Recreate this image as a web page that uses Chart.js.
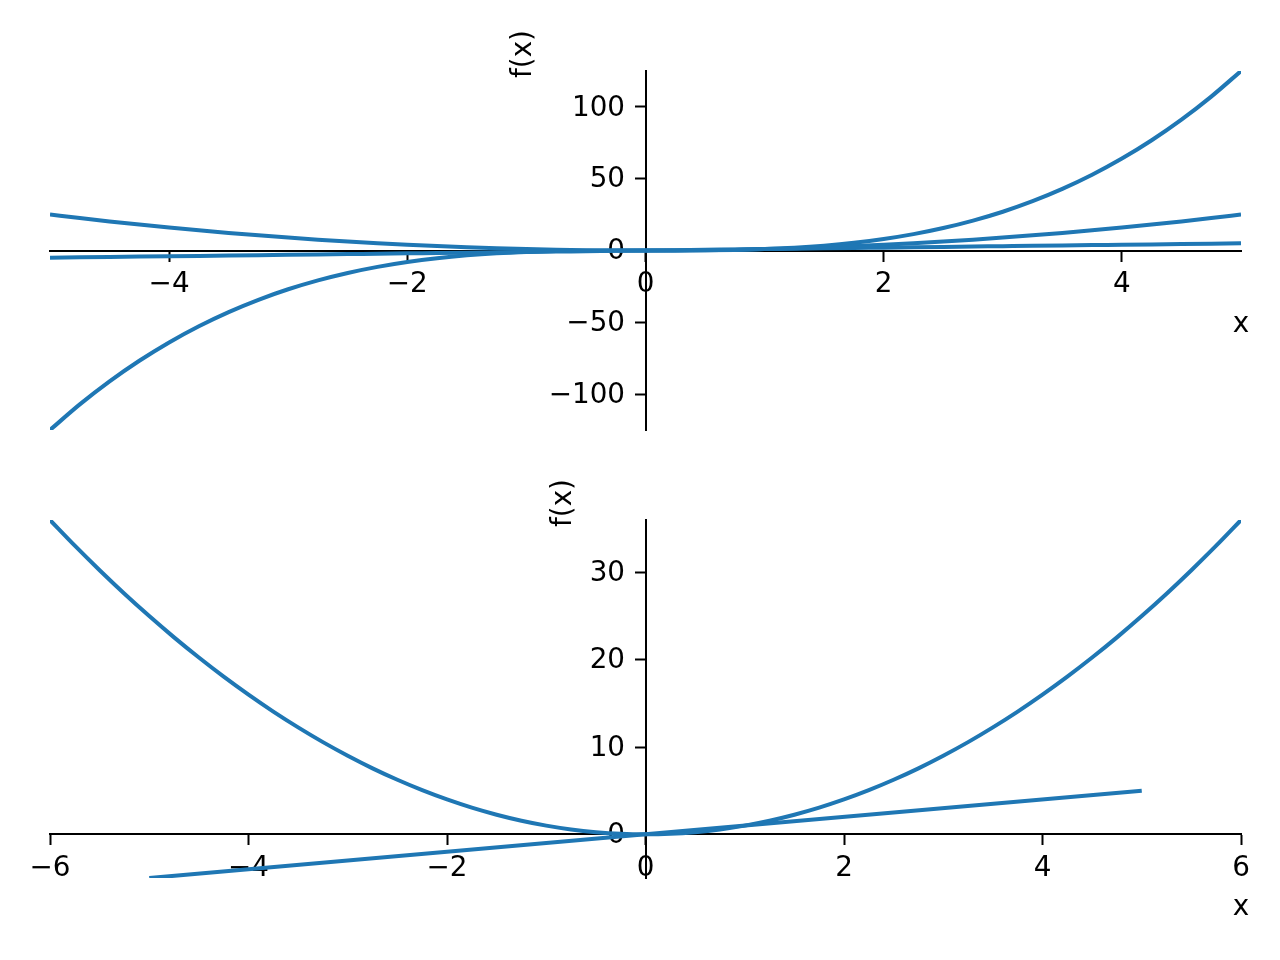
<!DOCTYPE html>
<html lang="en">
<head>
  <meta charset="UTF-8" />
  <title>f(x) plots</title>
  <style>
    * { margin: 0; padding: 0; box-sizing: border-box; }
    body { width: 1280px; height: 960px; background: #fff; position: relative; overflow: hidden; }
    canvas { position: absolute; left: 0; }
    #topChart { top: 0; }
    #bottomChart { top: 480px; }
  </style>
</head>
<body>
  <canvas id="topChart" width="1280" height="480"></canvas>
  <canvas id="bottomChart" width="1280" height="480"></canvas>

  <script src="https://cdn.jsdelivr.net/npm/chart.js"></script>
  <script>
    // top panel: x, x^2, x^3 over [-5, 5]
    const topX = [-5, -4.75, -4.5, -4.25, -4, -3.75, -3.5, -3.25, -3, -2.75, -2.5, -2.25, -2, -1.75, -1.5, -1.25, -1, -0.75, -0.5, -0.25,
      0, 0.25, 0.5, 0.75, 1, 1.25, 1.5, 1.75, 2, 2.25, 2.5, 2.75, 3, 3.25, 3.5, 3.75, 4, 4.25, 4.5, 4.75, 5];
    const topLinear = [-5, -4.75, -4.5, -4.25, -4, -3.75, -3.5, -3.25, -3, -2.75, -2.5, -2.25, -2, -1.75, -1.5, -1.25, -1, -0.75, -0.5, -0.25,
      0, 0.25, 0.5, 0.75, 1, 1.25, 1.5, 1.75, 2, 2.25, 2.5, 2.75, 3, 3.25, 3.5, 3.75, 4, 4.25, 4.5, 4.75, 5];
    const topSquare = [25, 22.56, 20.25, 18.06, 16, 14.06, 12.25, 10.56, 9, 7.56, 6.25, 5.06, 4, 3.06, 2.25, 1.56, 1, 0.56, 0.25, 0.06,
      0, 0.06, 0.25, 0.56, 1, 1.56, 2.25, 3.06, 4, 5.06, 6.25, 7.56, 9, 10.56, 12.25, 14.06, 16, 18.06, 20.25, 22.56, 25];
    const topCube = [-125, -107.17, -91.13, -76.77, -64, -52.73, -42.88, -34.33, -27, -20.8, -15.63, -11.39, -8, -5.36, -3.38, -1.95, -1, -0.42, -0.13, -0.02,
      0, 0.02, 0.13, 0.42, 1, 1.95, 3.38, 5.36, 8, 11.39, 15.63, 20.8, 27, 34.33, 42.88, 52.73, 64, 76.77, 91.13, 107.17, 125];
    const topXTicks = [-4, -2, 0, 2, 4];
    const topYTicks = [-100, -50, 0, 50, 100];

    // bottom panel: x^2 over [-6, 6], x over [-5, 5]
    const bottomX = [-6, -5.75, -5.5, -5.25, -5, -4.75, -4.5, -4.25, -4, -3.75, -3.5, -3.25, -3, -2.75, -2.5, -2.25, -2, -1.75, -1.5, -1.25, -1, -0.75, -0.5, -0.25,
      0, 0.25, 0.5, 0.75, 1, 1.25, 1.5, 1.75, 2, 2.25, 2.5, 2.75, 3, 3.25, 3.5, 3.75, 4, 4.25, 4.5, 4.75, 5, 5.25, 5.5, 5.75, 6];
    const bottomSquare = [36, 33.06, 30.25, 27.56, 25, 22.56, 20.25, 18.06, 16, 14.06, 12.25, 10.56, 9, 7.56, 6.25, 5.06, 4, 3.06, 2.25, 1.56, 1, 0.56, 0.25, 0.06,
      0, 0.06, 0.25, 0.56, 1, 1.56, 2.25, 3.06, 4, 5.06, 6.25, 7.56, 9, 10.56, 12.25, 14.06, 16, 18.06, 20.25, 22.56, 25, 27.56, 30.25, 33.06, 36];
    const bottomLineX = [-5, 5];
    const bottomLine = [-5, 5];
    const bottomXTicks = [-6, -4, -2, 0, 2, 4, 6];
    const bottomYTicks = [0, 10, 20, 30];

    const blue = '#1f77b4';
    const font = { family: "'DejaVu Sans', sans-serif", size: 27.8 };

    const pts = (xs, ys) => xs.map((x, i) => ({ x: x, y: ys[i] }));
    const minus = v => String(v).replace('-', '\u2212');

    function series(xs, ys) {
      return {
        data: pts(xs, ys),
        borderColor: blue,
        borderWidth: 4,
        pointRadius: 0,
        fill: false,
        cubicInterpolationMode: 'monotone'
      };
    }

    // centred y axis puts its labels on the spine, push them left of the ticks
    const yLabelShift = {
      id: 'yLabelShift',
      beforeDraw(chart) {
        const s = chart.scales.y;
        if (!s.getLabelItems) return;
        s.getLabelItems().forEach(it => {
          if (it._shifted) return;
          it.options.translation[0] -= 20.5;
          it.options.translation[1] += 1.5;
          it._shifted = true;
        });
      }
    };

    // axis names like sympy: "x" at the right end, "f(x)" up the y spine
    const axisNames = {
      id: 'axisNames',
      afterDraw(chart, args, opts) {
        const { ctx, chartArea, scales } = chart;
        const y0 = scales.y.getPixelForValue(0);
        const x0 = scales.x.getPixelForValue(0);
        ctx.save();
        ctx.fillStyle = '#000';
        ctx.font = `${font.size}px ${font.family}`;
        ctx.textAlign = 'center';
        ctx.textBaseline = 'alphabetic';
        ctx.fillText('x', chartArea.right, y0 + 81);
        ctx.translate(x0 - opts.yLabelOffset, chartArea.top - 17);
        ctx.rotate(-Math.PI / 2);
        ctx.textBaseline = 'middle';
        ctx.fillText('f(x)', 0, 0);
        ctx.restore();
      }
    };

    function makeChart(id, datasets, xRange, yRange, xTicks, yTicks, padding, yLabelOffset) {
      return new Chart(document.getElementById(id), {
        type: 'line',
        data: { datasets: datasets },
        options: {
          responsive: false,
          animation: false,
          devicePixelRatio: 1,
          layout: { padding: padding },
          plugins: {
            legend: { display: false },
            tooltip: { enabled: false },
            axisNames: { yLabelOffset: yLabelOffset }
          },
          scales: {
            x: {
              type: 'linear',
              min: xRange[0],
              max: xRange[1],
              position: { y: 0 },
              z: 1,
              afterBuildTicks: s => { s.ticks = xTicks.map(v => ({ value: v })); },
              border: { display: true, color: '#000', width: 2 },
              grid: { drawOnChartArea: false, drawTicks: true, tickLength: 10, tickWidth: 2, tickColor: '#000' },
              ticks: { color: '#000', font: font, padding: 8, maxRotation: 0, autoSkip: false, callback: minus }
            },
            y: {
              type: 'linear',
              min: yRange[0],
              max: yRange[1],
              position: { x: 0 },
              z: 1,
              afterBuildTicks: s => { s.ticks = yTicks.map(v => ({ value: v })); },
              border: { display: true, color: '#000', width: 2 },
              grid: { drawOnChartArea: false, drawTicks: true, tickLength: 10, tickWidth: 2, tickColor: '#000' },
              ticks: { color: '#000', font: font, padding: 10, autoSkip: false, callback: minus }
            }
          }
        },
        plugins: [yLabelShift, axisNames]
      });
    }

    makeChart('topChart',
      [series(topX, topLinear), series(topX, topSquare), series(topX, topCube)],
      [-5, 5], [-125, 125], topXTicks, topYTicks,
      { left: 50, right: 39, top: 71, bottom: 50 }, 121.5);

    makeChart('bottomChart',
      [series(bottomX, bottomSquare), series(bottomLineX, bottomLine)],
      [-6, 6], [-5, 36], bottomXTicks, bottomYTicks,
      { left: 50, right: 39, top: 40, bottom: 82 }, 81.5);
  </script>
</body>
</html>
